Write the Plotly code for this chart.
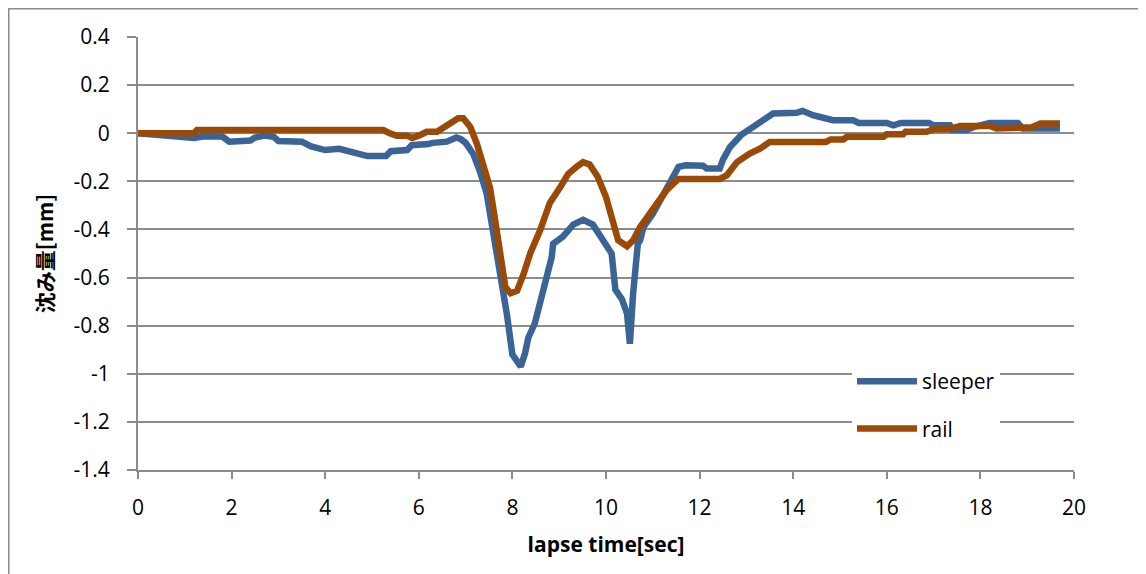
import plotly.graph_objects as go

# ---- data ----
sleeper_t = [0.0, 0.3, 0.7, 1.2, 1.4, 1.8, 1.95, 2.4, 2.5, 2.7, 2.9, 3.0, 3.5, 3.7, 4.0, 4.3,
             4.6, 4.9, 5.3, 5.4, 5.75, 5.85, 6.2, 6.3, 6.6, 6.8, 6.9, 7.0, 7.16, 7.3, 7.45,
             7.6, 7.74, 7.88, 8.0, 8.1, 8.18, 8.27, 8.34, 8.48, 8.59, 8.73, 8.84, 8.87, 9.08,
             9.3, 9.51, 9.72, 9.94, 10.12, 10.2, 10.34, 10.45, 10.51, 10.58, 10.68, 10.73,
             10.8, 11.0, 11.2, 11.37, 11.55, 11.7, 12.07, 12.15, 12.43, 12.5, 12.65, 12.9,
             13.14, 13.43, 13.57, 14.07, 14.2, 14.42, 14.7, 14.85, 15.28, 15.4, 16.0, 16.14,
             16.3, 16.9, 17.0, 17.35, 17.4, 17.7, 17.85, 18.2, 18.8, 18.9, 19.7]
sleeper_v = [0.0, -0.005, -0.01, -0.02, -0.013, -0.014, -0.035, -0.03, -0.018, -0.01, -0.015,
             -0.032, -0.035, -0.055, -0.07, -0.065, -0.08, -0.095, -0.095, -0.075, -0.07,
             -0.05, -0.045, -0.04, -0.035, -0.018, -0.025, -0.04, -0.085, -0.155, -0.25,
             -0.42, -0.6, -0.75, -0.92, -0.945, -0.97, -0.915, -0.85, -0.79, -0.71, -0.585,
             -0.515, -0.46, -0.43, -0.38, -0.36, -0.38, -0.445, -0.5, -0.65, -0.69, -0.75,
             -0.875, -0.665, -0.46, -0.445, -0.39, -0.335, -0.265, -0.21, -0.14, -0.133,
             -0.135, -0.147, -0.147, -0.11, -0.057, -0.005, 0.025, 0.068, 0.082, 0.085,
             0.093, 0.075, 0.063, 0.054, 0.054, 0.043, 0.043, 0.033, 0.043, 0.043, 0.033,
             0.033, 0.013, 0.013, 0.025, 0.043, 0.043, 0.02, 0.02]

rail_t = [0.0, 1.2, 1.26, 5.24, 5.38, 5.53, 5.75, 5.86, 6.03, 6.17, 6.39, 6.6, 6.84, 6.95,
          7.1, 7.24, 7.38, 7.52, 7.63, 7.74, 7.85, 7.96, 8.1, 8.24, 8.38, 8.59, 8.8, 9.02,
          9.19, 9.37, 9.51, 9.65, 9.82, 10.0, 10.15, 10.26, 10.45, 10.58, 10.73, 10.88,
          11.09, 11.3, 11.55, 11.8, 12.1, 12.43, 12.58, 12.8, 13.07, 13.3, 13.5, 14.7,
          14.8, 15.07, 15.15, 15.93, 16.0, 16.35, 16.4, 16.85, 17.0, 17.3, 17.57, 18.2,
          18.35, 18.9, 19.1, 19.28, 19.7]
rail_v = [0.0, 0.0, 0.013, 0.013, 0.0, -0.011, -0.011, -0.02, -0.007, 0.006, 0.006, 0.034,
          0.062, 0.062, 0.026, -0.043, -0.125, -0.225, -0.36, -0.515, -0.64, -0.665, -0.655,
          -0.585, -0.5, -0.405, -0.29, -0.225, -0.17, -0.14, -0.12, -0.13, -0.18, -0.265,
          -0.375, -0.445, -0.47, -0.445, -0.39, -0.35, -0.29, -0.235, -0.19, -0.19, -0.185,
          -0.19, -0.175, -0.12, -0.085, -0.063, -0.036, -0.036, -0.026, -0.026, -0.015,
          -0.015, -0.004, -0.004, 0.006, 0.006, 0.016, 0.016, 0.03, 0.03, 0.02, 0.02, 0.025,
          0.04, 0.04]

series_names = ["sleeper", "rail"]
y_tick_vals = [0.4, 0.2, 0, -0.2, -0.4, -0.6, -0.8, -1.0, -1.2, -1.4]
y_tick_text = ["0.4", "0.2", "0", "-0.2", "-0.4", "-0.6", "-0.8", "-1", "-1.2", "-1.4"]
x_tick_vals = [0, 2, 4, 6, 8, 10, 12, 14, 16, 18, 20]
x_title = "lapse time[sec]"
y_title = "沈み量[mm]"

BLUE = "#3a6496"
ORANGE = "#9a4a06"
GRID = "#8c8c8c"
FONT = "'Open Sans', Lato, sans-serif"
CJK = "'Noto Sans CJK JP', 'Open Sans', sans-serif"

fig = go.Figure()
fig.add_trace(go.Scatter(x=sleeper_t, y=sleeper_v, mode="lines", name=series_names[0],
                         legendgroup="a", line=dict(color=BLUE, width=6.5)))
fig.add_trace(go.Scatter(x=rail_t, y=rail_v, mode="lines", name=series_names[1],
                         legendgroup="b", line=dict(color=ORANGE, width=6.5)))

# page body has an 8px margin, so the figure starts at (8, 8) on screen
OFF = 8
W, H = 1146 - OFF, 574 - OFF
L, R, T, B = 138 - OFF, 1146 - 1074, 37 - OFF, 574 - 470
pw, ph = W - L - R, H - T - B


def px_x(p):  # screen px -> paper
    return (p - OFF - L) / pw


def px_y(p):
    return 1 - (p - OFF - T) / ph


fig.update_layout(
    width=W, height=H,
    margin=dict(l=L, r=R, t=T, b=B, pad=0),
    paper_bgcolor="white", plot_bgcolor="white",
    font=dict(family=FONT, size=21, color="#000000"),
    showlegend=True,
    legend=dict(x=px_x(852), y=px_y(361), xanchor="left", yanchor="top",
                bgcolor="white", borderwidth=0, font=dict(size=21, family=FONT),
                tracegroupgap=17, itemwidth=60),
    xaxis=dict(range=[0, 20], tickvals=x_tick_vals, showgrid=False, zeroline=False,
               showline=True, linecolor=GRID, linewidth=2, ticks="outside", ticklen=7,
               tickwidth=2, tickcolor=GRID, ticklabelstandoff=11,
               title=dict(text="<b>" + x_title + "</b>", font=dict(size=21, family=FONT), standoff=17)),
    yaxis=dict(range=[-1.4, 0.4], tickvals=y_tick_vals, ticktext=y_tick_text,
               showgrid=True, gridcolor=GRID, gridwidth=1.5, zeroline=False,
               showline=True, linecolor=GRID, linewidth=2, ticks="outside", ticklen=9,
               tickwidth=2, tickcolor=GRID, ticklabelstandoff=13,
               title=dict(text="<b>" + y_title + "</b>",
                          font=dict(size=21, family=CJK), standoff=14)),
    shapes=[
        dict(type="rect", xref="paper", yref="paper", x0=px_x(823), x1=px_x(1039),
             y0=px_y(352), y1=px_y(446), fillcolor="white", line=dict(width=0), layer="between"),
        dict(type="rect", xref="paper", yref="paper", x0=px_x(8.75), x1=px_x(1142),
             y0=px_y(590), y1=px_y(8.75), fillcolor="rgba(0,0,0,0)",
             line=dict(color="#8c8c8c", width=1.5), layer="above"),
    ],
)

fig.write_html("out.html")
